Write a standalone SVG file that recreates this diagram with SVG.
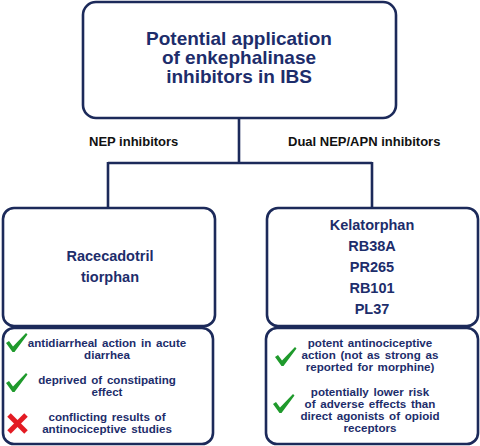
<svg xmlns="http://www.w3.org/2000/svg" width="480" height="446" viewBox="0 0 480 446">
<style>
.box{fill:#fff;stroke:#1c2a5a;stroke-width:2.6}
.con{fill:none;stroke:#1c2a5a;stroke-width:2.6}
text{font-family:"Liberation Sans",Arial,sans-serif;font-weight:bold;text-anchor:middle;fill:#1d2d6b}
.title{font-size:19px}
.drug{font-size:14.5px}
.small{font-size:11.6px;word-spacing:1.5px}
.lbl{font-size:13px;fill:#111;text-anchor:start}
.x{stroke:#e31b23;stroke-width:5}
</style>
<defs>
<path id="chk" d="M0,10 L3,8 L7,13.5 L20,0 L21.5,1.5 L8.5,19 L6.5,19 Z" fill="#1f9a2c"/>
</defs>
<rect width="480" height="446" fill="#fff"/>
<g id="connectors">
<path class="con" d="M239,118 V163 M108,163 H372 M108,162 V208 M372,162 V208"/>
<text class="lbl" x="89" y="146">NEP inhibitors</text>
<text class="lbl" x="288" y="146">Dual NEP/APN inhibitors</text>
</g>
<g id="root">
<rect class="box" x="83" y="2" width="313" height="116" rx="13"/>
<text class="title" x="239" y="45">Potential application</text>
<text class="title" x="239" y="64">of enkephalinase</text>
<text class="title" x="239" y="83">inhibitors in IBS</text>
</g>
<g id="nep">
<rect class="box" x="3" y="208" width="212" height="118" rx="11"/>
<text class="drug" x="110" y="261">Racecadotril</text>
<text class="drug" x="110" y="282">tiorphan</text>
</g>
<g id="nep-effects">
<rect class="box" x="3" y="328" width="210" height="116" rx="11"/>
<use href="#chk" x="6" y="333"/>
<use href="#chk" x="6" y="373"/>
<line class="x" x1="9" y1="415" x2="26" y2="432"/>
<line class="x" x1="26" y1="415" x2="9" y2="432"/>
<text class="small" x="107" y="347">antidiarrheal action in acute</text>
<text class="small" x="107" y="359">diarrhea</text>
<text class="small" x="107" y="384">deprived of constipating</text>
<text class="small" x="107" y="396">effect</text>
<text class="small" x="107" y="421">conflicting results of</text>
<text class="small" x="107" y="433">antinociceptive studies</text>
</g>
<g id="dual">
<rect class="box" x="267" y="208" width="211" height="118" rx="11"/>
<text class="drug" x="372" y="230">Kelatorphan</text>
<text class="drug" x="372" y="251">RB38A</text>
<text class="drug" x="372" y="272">PR265</text>
<text class="drug" x="372" y="293">RB101</text>
<text class="drug" x="372" y="314">PL37</text>
</g>
<g id="dual-effects">
<rect class="box" x="266" y="328" width="212" height="116" rx="11"/>
<use href="#chk" x="275" y="347"/>
<use href="#chk" x="273" y="394"/>
<text class="small" x="370" y="347">potent antinociceptive</text>
<text class="small" x="370" y="359">action (not as strong as</text>
<text class="small" x="370" y="371">reported for morphine)</text>
<text class="small" x="370" y="396">potentially lower risk</text>
<text class="small" x="370" y="408">of adverse effects than</text>
<text class="small" x="370" y="420">direct agonists of opioid</text>
<text class="small" x="370" y="432">receptors</text>
</g>
</svg>
